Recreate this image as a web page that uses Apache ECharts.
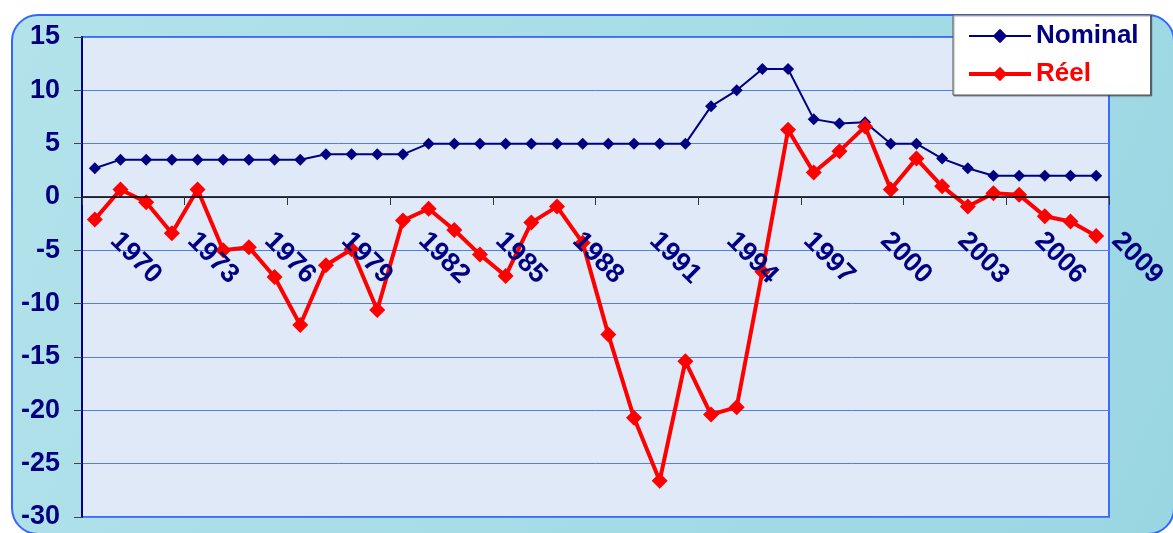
<!DOCTYPE html>
<html>
<head>
<meta charset="utf-8">
<script src="https://cdn.jsdelivr.net/npm/echarts@6/dist/echarts.min.js"></script>
<style>
  html, body { margin: 0; padding: 0; background: #ffffff; }
  #chart { width: 1173px; height: 533px; }
</style>
</head>
<body>
<div id="chart"></div>
<script>
// Years on the category axis
const years = [];
for (let y = 1970; y <= 2009; y++) years.push(String(y));

// Nominal rate (%)
const nominal = [
  2.7, 3.5, 3.5, 3.5, 3.5, 3.5, 3.5, 3.5, 3.5, 4.0,
  4.0, 4.0, 4.0, 5.0, 5.0, 5.0, 5.0, 5.0, 5.0, 5.0,
  5.0, 5.0, 5.0, 5.0, 8.5, 10.0, 12.0, 12.0, 7.3, 6.9,
  7.0, 5.0, 5.0, 3.6, 2.7, 2.0, 2.0, 2.0, 2.0, 2.0
];

// Real rate (%)
const reel = [
  -2.1, 0.7, -0.5, -3.4, 0.7, -5.0, -4.7, -7.5, -12.0, -6.4,
  -4.9, -10.6, -2.2, -1.1, -3.1, -5.4, -7.4, -2.4, -0.9, -4.3,
  -12.9, -20.7, -26.6, -15.4, -20.4, -19.7, -7.0, 6.3, 2.3, 4.3,
  6.6, 0.7, 3.6, 1.0, -0.9, 0.35, 0.2, -1.8, -2.3, -3.65
];

// Value axis range
const yMin = -30, yMax = 15, yStep = 5;

const navy = '#000080';
const red = '#ff0000';
const font = "'Liberation Sans', Arial, sans-serif";

// Plot box
const gridTop = 37, gridBottom = 16, chartH = 533;
const plotH = chartH - gridTop - gridBottom;
// distance from the bottom edge up to the zero line, so the category axis sits on 0
const zeroLift = plotH * (0 - yMin) / (yMax - yMin);

const chart = echarts.init(document.getElementById('chart'), null, { renderer: 'canvas' });

chart.setOption({
  animation: false,
  backgroundColor: '#ffffff',
  graphic: [
    {
      type: 'rect',
      z: -10,
      silent: true,
      shape: { x: 12, y: 15, width: 1162, height: 519, r: 26 },
      style: {
        fill: {
          type: 'linear', x: 0, y: 0, x2: 1, y2: 1,
          colorStops: [
            { offset: 0, color: '#b3e2ea' },
            { offset: 0.5, color: '#a6dde7' },
            { offset: 1, color: '#9ad6e2' }
          ]
        },
        stroke: '#3366ff',
        lineWidth: 2
      }
    }
  ],
  grid: {
    left: 82, right: 64, top: gridTop, bottom: gridBottom,
    outerBoundsMode: 'none',
    containLabel: false,
    show: true,
    backgroundColor: '#dfe9f7',
    borderColor: '#3a6cf5',
    borderWidth: 2
  },
  legend: {
    orient: 'vertical',
    left: 953, top: 15,
    backgroundColor: '#ffffff',
    borderColor: '#555555',
    borderWidth: 1,
    borderRadius: 0,
    padding: [8, 12, 8, 14],
    itemWidth: 62,
    itemHeight: 18,
    itemGap: 12,
    shadowColor: 'rgba(0,0,0,0.35)',
    shadowOffsetX: 1,
    shadowOffsetY: 1,
    shadowBlur: 1,
    textStyle: { fontFamily: font, fontWeight: 'bold', fontSize: 26 },
    data: [
      { name: 'Nominal', textStyle: { color: navy }, lineStyle: { width: 2, color: navy } },
      { name: 'Réel', textStyle: { color: red }, lineStyle: { width: 4, color: red } }
    ]
  },
  xAxis: {
    type: 'category',
    data: years,
    boundaryGap: true,
    position: 'bottom',
    offset: -zeroLift,
    z: 10,
    axisLine: { show: true, onZero: false, lineStyle: { color: '#000000', width: 1.5 } },
    axisTick: {
      show: true,
      length: 8,
      interval: function (i) { return i % 4 === 0; },
      lineStyle: { color: '#333333', width: 1 }
    },
    axisLabel: {
      interval: 2,
      rotate: -45,
      margin: 20,
      padding: [0, 0, 0, 28],
      color: navy,
      fontFamily: font,
      fontWeight: 'bold',
      fontSize: 27
    },
    splitLine: { show: false }
  },
  yAxis: {
    type: 'value',
    min: yMin, max: yMax, interval: yStep,
    axisLine: { show: true, lineStyle: { color: navy, width: 2 } },
    axisTick: { show: true, length: 8, lineStyle: { color: '#444444' } },
    axisLabel: {
      margin: 22,
      color: navy,
      fontFamily: font,
      fontWeight: 'bold',
      fontSize: 27
    },
    splitLine: { show: true, lineStyle: { color: '#4f7df2', width: 1 } }
  },
  series: [
    {
      name: 'Nominal',
      type: 'line',
      data: nominal,
      symbol: 'diamond',
      symbolSize: 12,
      itemStyle: { color: navy },
      lineStyle: { color: navy, width: 2 }
    },
    {
      name: 'Réel',
      type: 'line',
      data: reel,
      symbol: 'diamond',
      symbolSize: 16,
      itemStyle: { color: red },
      lineStyle: { color: red, width: 4 }
    }
  ]
});
</script>
</body>
</html>
